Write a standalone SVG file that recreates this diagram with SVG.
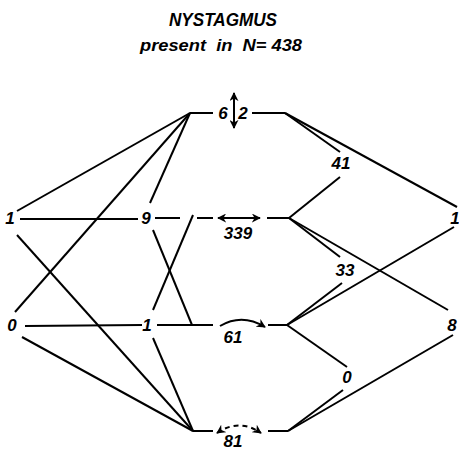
<svg xmlns="http://www.w3.org/2000/svg" width="459" height="450" viewBox="0 0 459 450">
<defs>
<style>
.ln{stroke:#000;stroke-width:2;fill:none;stroke-linecap:butt}
.t{font-family:"Liberation Sans",Arial,sans-serif;font-style:italic;font-weight:bold;font-size:17px;fill:#000;text-anchor:middle}
.h{font-family:"Liberation Sans",Arial,sans-serif;font-style:italic;font-weight:bold;fill:#000;text-anchor:middle}
</style>
<marker id="ah2" viewBox="0 0 10 10" refX="9" refY="5" markerWidth="9" markerHeight="9" orient="auto-start-reverse" markerUnits="userSpaceOnUse">
<path d="M0,0 L10,5 L0,10 L3,5 z" fill="#000"/>
</marker>
</defs>
<rect width="459" height="450" fill="#fff"/>
<g id="title">
<text class="h" x="223" y="26" font-size="18" textLength="108" lengthAdjust="spacingAndGlyphs">NYSTAGMUS</text>
<text class="h" x="221" y="51" font-size="17" textLength="162" lengthAdjust="spacingAndGlyphs" xml:space="preserve" style="white-space:pre">present  in  N= 438</text>
</g>
<g id="connectors">
<path class="ln" d="M190,113 L213,113"/>
<path class="ln" d="M190,113 L17,211"/>
<path class="ln" d="M190,113 L15,312"/>
<path class="ln" d="M190,113 L150,203"/>
<path class="ln" d="M20,219 L138,219"/>
<path class="ln" d="M155,218 L180,218"/>
<path class="ln" d="M197,218 L213,218"/>
<path class="ln" d="M153,310 L193,215"/>
<path class="ln" d="M153,230 L192,325"/>
<path class="ln" d="M25,326 L142,325"/>
<path class="ln" d="M157,325 L213,325"/>
<path class="ln" d="M193,431 L213,431"/>
<path class="ln" d="M17,235 L193,431"/>
<path class="ln" d="M22,337 L193,431"/>
<path class="ln" d="M153,338 L193,431"/>
<path class="ln" d="M234,93 L234,128" marker-start="url(#ah2)" marker-end="url(#ah2)"/>
<path class="ln" d="M218,218 L260,218" marker-start="url(#ah2)" marker-end="url(#ah2)"/>
<path class="ln" d="M220,326 Q242,313 265,327" marker-end="url(#ah2)"/>
<path class="ln" d="M217,433 Q239,418 261,433" stroke-dasharray="5,4" marker-start="url(#ah2)" marker-end="url(#ah2)"/>
<path class="ln" d="M252,113 L285,113"/>
<path class="ln" d="M285,113 L340,152"/>
<path class="ln" d="M285,113 L457,207"/>
<path class="ln" d="M267,218 L289,218"/>
<path class="ln" d="M289,218 L340,177"/>
<path class="ln" d="M289,218 L340,257"/>
<path class="ln" d="M289,218 L448,310"/>
<path class="ln" d="M268,325 L287,325"/>
<path class="ln" d="M287,325 L342,283"/>
<path class="ln" d="M287,325 L454,227"/>
<path class="ln" d="M287,325 L347,367"/>
<path class="ln" d="M268,431 L288,431"/>
<path class="ln" d="M288,431 L343,390"/>
<path class="ln" d="M288,431 L453,335"/>
</g>
<g id="n6"><text class="t" x="223" y="119">6</text></g>
<g id="n2"><text class="t" x="243" y="119">2</text></g>
<g id="nL1"><text class="t" x="10" y="224">1</text></g>
<g id="n9"><text class="t" x="146" y="224">9</text></g>
<g id="n339"><text class="t" x="238" y="239">339</text></g>
<g id="n41"><text class="t" x="341" y="169">41</text></g>
<g id="n33"><text class="t" x="345" y="276">33</text></g>
<g id="nR1"><text class="t" x="455" y="224">1</text></g>
<g id="nL0"><text class="t" x="12" y="331">0</text></g>
<g id="nM1"><text class="t" x="147" y="331">1</text></g>
<g id="n61"><text class="t" x="233" y="343">61</text></g>
<g id="nR0"><text class="t" x="347" y="383">0</text></g>
<g id="nR8"><text class="t" x="452" y="331">8</text></g>
<g id="n81"><text class="t" x="233" y="447">81</text></g>
</svg>
